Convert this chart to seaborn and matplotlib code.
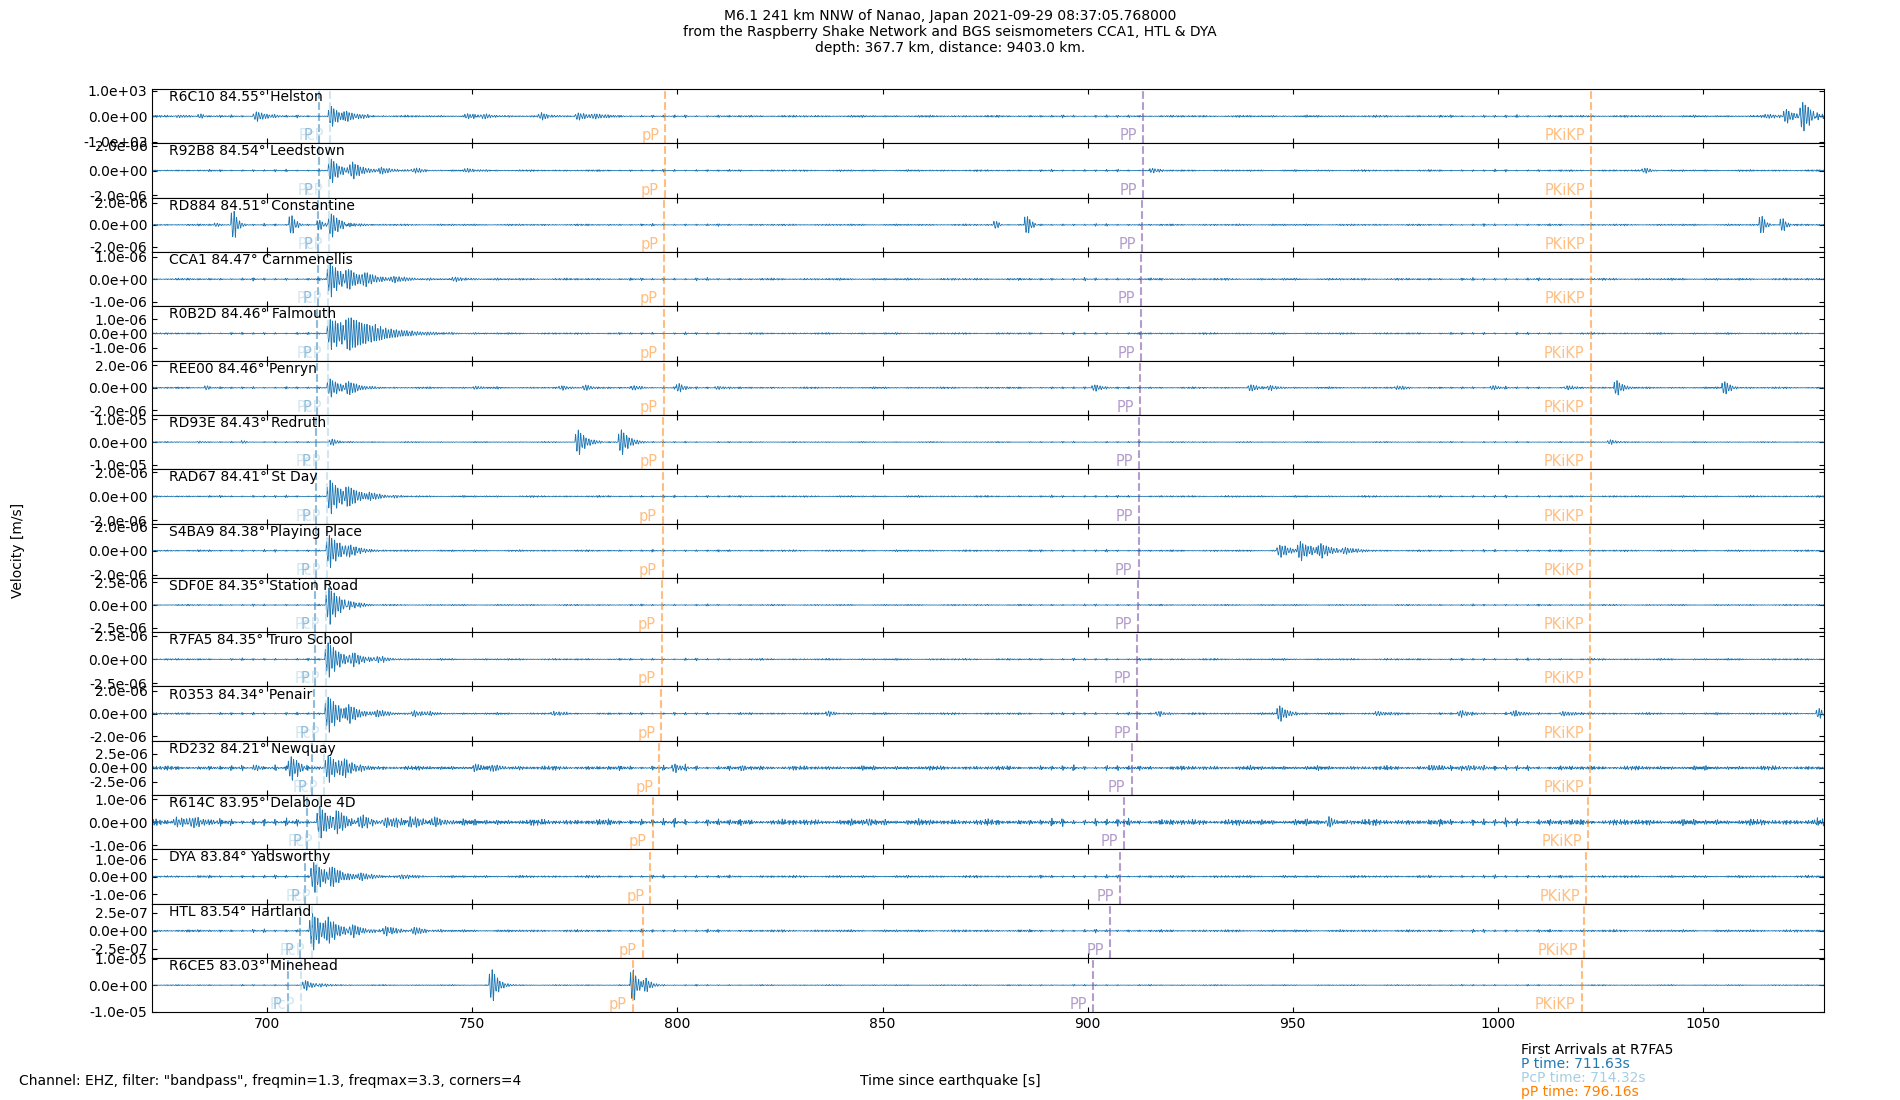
import numpy as np
import matplotlib
matplotlib.use("Agg")
import matplotlib.pyplot as plt
import matplotlib.transforms as mtransforms
from matplotlib.ticker import FormatStrFormatter
import seaborn as sns

# ---------------- data ----------------
stations = ['R6C10', 'R92B8', 'RD884', 'CCA1', 'R0B2D', 'REE00', 'RD93E', 'RAD67',
            'S4BA9', 'SDF0E', 'R7FA5', 'R0353', 'RD232', 'R614C', 'DYA', 'HTL', 'R6CE5']
distances = [84.55, 84.54, 84.51, 84.47, 84.46, 84.46, 84.43, 84.41,
             84.38, 84.35, 84.35, 84.34, 84.21, 83.95, 83.84, 83.54, 83.03]
places = ['Helston', 'Leedstown', 'Constantine', 'Carnmenellis', 'Falmouth', 'Penryn',
          'Redruth', 'St Day', 'Playing Place', 'Station Road', 'Truro School', 'Penair',
          'Newquay', 'Delabole 4D', 'Yadsworthy', 'Hartland', 'Minehead']
ytick_values = [1.0e3, 2.0e-6, 2.0e-6, 1.0e-6, 1.0e-6, 2.0e-6, 1.0e-5, 2.0e-6,
                2.0e-6, 2.5e-6, 2.5e-6, 2.0e-6, 2.5e-6, 1.0e-6, 1.0e-6, 2.5e-7, 1.0e-5]
ylim_ratio = [1.07, 1.10, 1.24, 1.20, 1.91, 1.20, 1.19, 1.13,
              1.13, 1.19, 1.14, 1.19, 1.94, 1.18, 1.55, 1.50, 1.03]

# phase arrival times [s]
p_times = [712.5, 712.5, 712.4, 712.3, 712.2, 712.2, 712.0, 711.9,
           711.8, 711.6, 711.63, 711.5, 710.9, 709.7, 709.2, 707.9, 705.0]
pcp_times = [715.2, 715.0, 715.0, 714.9, 714.8, 714.8, 714.7, 714.6,
             714.5, 714.4, 714.32, 714.3, 713.8, 712.6, 712.1, 710.8, 708.3]
pp_depth_times = [797.0, 796.9, 796.8, 796.7, 796.6, 796.6, 796.5, 796.4,
                  796.4, 796.2, 796.16, 796.1, 795.6, 794.0, 793.4, 791.6, 789.1]
pp_times = [913.6, 913.4, 913.2, 913.0, 912.9, 912.8, 912.6, 912.5,
            912.4, 912.2, 912.1, 912.0, 910.7, 908.9, 907.8, 905.4, 901.2]
pkikp_times = [1022.8, 1022.7, 1022.7, 1022.7, 1022.6, 1022.6, 1022.6, 1022.6,
               1022.5, 1022.5, 1022.5, 1022.5, 1022.4, 1021.9, 1021.6, 1021.0, 1020.4]

phase_names = ['P', 'PcP', 'pP', 'PP', 'PKiKP']
phase_colors = ['#1f78b4', '#a6cee3', '#ff7f00', '#6a3d9a', '#ff7f00']

# background noise level per trace (fraction of the y half-range)
noise_levels = [0.035, 0.03, 0.03, 0.035, 0.03, 0.03, 0.02, 0.03,
                0.03, 0.025, 0.03, 0.035, 0.07, 0.10, 0.04, 0.04, 0.02]

# wave packets per trace: (onset time [s], peak amplitude / half-range, decay [s])
bursts_R6C10 = [(677.5, 0.07, 2), (683.0, 0.08, 2), (696.5, 0.2, 3), (714.8, 0.42, 2.5),
                (718.5, 0.22, 3), (748.0, 0.1, 3), (752.0, 0.08, 3), (766.0, 0.12, 3),
                (775.0, 0.15, 3), (779.0, 0.1, 3), (1065.0, 0.1, 3), (1069.5, 0.28, 2),
                (1073.5, 0.6, 2.5), (1077.0, 0.25, 2)]
bursts_R92B8 = [(714.8, 0.5, 2.5), (720.0, 0.28, 3), (727.0, 0.12, 3), (735.0, 0.1, 3),
                (748.0, 0.08, 3), (915.0, 0.1, 2), (1035.0, 0.12, 1.5)]
bursts_RD884 = [(687.0, 0.1, 1), (691.1, 0.75, 1), (705.2, 0.5, 1), (712.0, 0.28, 1),
                (714.8, 0.5, 2.5), (719.0, 0.15, 3), (877.0, 0.2, 0.8), (884.5, 0.45, 1),
                (1063.6, 0.45, 1), (1068.7, 0.33, 1)]
bursts_CCA1 = [(714.5, 0.7, 3), (719.0, 0.3, 3), (723.0, 0.25, 3), (730.0, 0.12, 4),
               (745.0, 0.08, 4)]
bursts_R0B2D = [(714.5, 0.58, 8), (719.0, 0.4, 7), (725.0, 0.2, 5)]
bursts_REE00 = [(684.6, 0.12, 0.8), (714.5, 0.37, 3), (719.0, 0.2, 3), (750.0, 0.06, 3),
                (771.0, 0.1, 2), (776.8, 0.12, 2), (788.6, 0.1, 2), (799.6, 0.2, 1.5),
                (809.0, 0.08, 2), (900.9, 0.15, 2), (939.0, 0.15, 2), (943.7, 0.12, 2),
                (974.7, 0.1, 2), (998.0, 0.1, 2), (1016.0, 0.08, 2), (1028.2, 0.35, 1.5),
                (1054.5, 0.3, 1.5)]
bursts_RD93E = [(682.8, 0.06, 1), (693.6, 0.06, 1), (715.0, 0.13, 2), (775.0, 0.55, 2),
                (785.5, 0.55, 2), (1026.6, 0.1, 2)]
bursts_RAD67 = [(714.5, 0.72, 3), (719.0, 0.3, 3), (724.0, 0.15, 4)]
bursts_S4BA9 = [(714.3, 0.67, 3), (719.0, 0.25, 3), (946.0, 0.25, 3), (951.0, 0.4, 3),
                (956.0, 0.3, 3), (962.0, 0.15, 3)]
bursts_SDF0E = [(714.2, 0.75, 3), (719.0, 0.3, 3)]
bursts_R7FA5 = [(714.0, 0.73, 3), (720.0, 0.3, 3), (726.0, 0.15, 3)]
bursts_R0353 = [(714.0, 0.75, 3), (719.0, 0.35, 3), (726.0, 0.15, 3), (735.0, 0.12, 4),
                (769.0, 0.1, 2), (836.0, 0.1, 2), (916.5, 0.12, 2), (946.0, 0.35, 2),
                (970.0, 0.1, 3), (990.0, 0.12, 3), (1003.0, 0.12, 3), (1015.0, 0.1, 3),
                (1077.5, 0.2, 2)]
bursts_RD232 = [(696.5, 0.12, 2), (705.0, 0.52, 2), (714.0, 0.56, 3), (718.0, 0.3, 3),
                (750.0, 0.12, 3), (754.0, 0.12, 3), (798.5, 0.22, 1.5), (815.0, 0.08, 3),
                (983.0, 0.1, 4), (992.0, 0.1, 4)]
bursts_R614C = [(677.0, 0.2, 3), (681.0, 0.2, 3), (712.0, 0.62, 3), (716.0, 0.4, 3),
                (722.0, 0.3, 3), (728.0, 0.25, 3), (734.0, 0.25, 3), (740.0, 0.2, 3),
                (846.0, 0.15, 2), (958.0, 0.15, 3), (1077.0, 0.12, 2)]
bursts_DYA = [(710.5, 0.63, 3), (715.0, 0.3, 3), (722.0, 0.15, 3), (732.0, 0.1, 3)]
bursts_HTL = [(710.2, 0.77, 3), (714.0, 0.35, 3), (720.0, 0.25, 3), (728.0, 0.2, 3),
              (735.0, 0.15, 3)]
bursts_R6CE5 = [(708.5, 0.22, 2), (712.0, 0.1, 3), (754.0, 0.75, 1.5), (788.4, 0.8, 1.2),
                (791.5, 0.3, 1.5)]

all_bursts = [bursts_R6C10, bursts_R92B8, bursts_RD884, bursts_CCA1, bursts_R0B2D,
              bursts_REE00, bursts_RD93E, bursts_RAD67, bursts_S4BA9, bursts_SDF0E,
              bursts_R7FA5, bursts_R0353, bursts_RD232, bursts_R614C, bursts_DYA,
              bursts_HTL, bursts_R6CE5]

ref_station = 'R7FA5'
first_arrivals = [('P', 711.63), ('PcP', 714.32), ('pP', 796.16)]
legend_colors = ['#1f78b4', '#a6cee3', '#ff7f00']

t_start, t_end = 672.0, 1079.5
xticks = [700, 750, 800, 850, 900, 950, 1000, 1050]

# ---------------- trace rendering (band-limited wiggle around the read envelopes) ----------------
dt = 0.025
t = np.arange(t_start, t_end, dt)


def noise_texture(tt, k):
    fr = [1.35, 1.72, 2.07, 2.46, 2.83, 3.21]
    s = np.zeros_like(tt)
    for j, f in enumerate(fr):
        s += np.sin(2 * np.pi * f * tt + 1.7 * j + 0.9 * k)
    s /= 3.0
    mod = 0.65 + 0.35 * np.sin(2 * np.pi * tt / 37.0 + k) * np.sin(2 * np.pi * tt / 11.0 + 2 * k)
    return s * mod


def packet(tt, t0, amp, decay):
    x = tt - t0
    xc = np.clip(x, 0, None)
    env = np.where(x > 0, (1 - np.exp(-xc / 0.25)) * np.exp(-xc / decay), 0.0)
    xs = np.linspace(0, 10 * decay, 2000)
    norm = ((1 - np.exp(-xs / 0.25)) * np.exp(-xs / decay)).max()
    car = 0.8 * np.sin(2 * np.pi * 1.55 * x) + 0.2 * np.sin(2 * np.pi * 2.35 * x + 0.7)
    return amp * env / norm * car


fig, axes = plt.subplots(len(stations), 1, sharex=True, figsize=(19, 11), dpi=100)
fig.subplots_adjust(left=0.0802, right=0.96, top=0.919, bottom=0.0797, hspace=0)

for i, ax in enumerate(axes):
    A = ytick_values[i]
    half = ylim_ratio[i] * A
    sig = noise_levels[i] * noise_texture(t, i)
    for (t0, amp, dec) in all_bursts[i]:
        sig = sig + packet(t, t0, amp, dec)
    y = sig * half
    sns.lineplot(x=t, y=y, ax=ax, color='#1f77b4', linewidth=0.6,
                 estimator=None, sort=False, legend=False)

    times = [p_times[i], pcp_times[i], pp_depth_times[i], pp_times[i], pkikp_times[i]]
    trans = mtransforms.blended_transform_factory(ax.transData, ax.transAxes)
    for name, tp, col in zip(phase_names, times, phase_colors):
        ax.axvline(tp, ls='--', color=col, alpha=0.5, lw=1.5)
        ax.text(tp - 1.45, 0.0, name, transform=trans, ha='right', va='bottom',
                color=col, alpha=0.5, fontsize=10.5)

    ax.set_ylim(-half, half)
    ax.set_yticks([-A, 0, A])
    ax.yaxis.set_major_formatter(FormatStrFormatter('%.1e'))
    ax.set_xlim(t_start, t_end)
    ax.set_xticks(xticks)
    ax.tick_params(axis='both', which='both', direction='in', top=True, right=True,
                   labelsize=10)
    ax.set_xlabel('')
    ax.set_ylabel('')
    ax.text(0.01, 0.98, f'{stations[i]} {distances[i]:.2f}° {places[i]}',
            transform=ax.transAxes, ha='left', va='top', fontsize=10)

fig.suptitle('M6.1 241 km NNW of Nanao, Japan 2021-09-29 08:37:05.768000\n'
             'from the Raspberry Shake Network and BGS seismometers CCA1, HTL & DYA\n'
             'depth: 367.7 km, distance: 9403.0 km.', fontsize=10, y=0.992)
fig.text(0.0095, 0.5, 'Velocity [m/s]', rotation=90, ha='center', va='center', fontsize=10)
fig.text(0.5, 0.0173, 'Time since earthquake [s]', ha='center', va='center', fontsize=10)
fig.text(0.0102, 0.0173, 'Channel: EHZ, filter: "bandpass", freqmin=1.3, freqmax=3.3, corners=4',
         ha='left', va='center', fontsize=10)

leg_y = [0.0455, 0.0327, 0.0200, 0.0073]
fig.text(0.8004, leg_y[0], f'First Arrivals at {ref_station}', ha='left', va='center', fontsize=10)
for (nm, tv), col, yy in zip(first_arrivals, legend_colors, leg_y[1:]):
    fig.text(0.8004, yy, f'{nm} time: {tv:.2f}s', ha='left', va='center', fontsize=10, color=col)

fig.savefig('out.png', dpi=100)
